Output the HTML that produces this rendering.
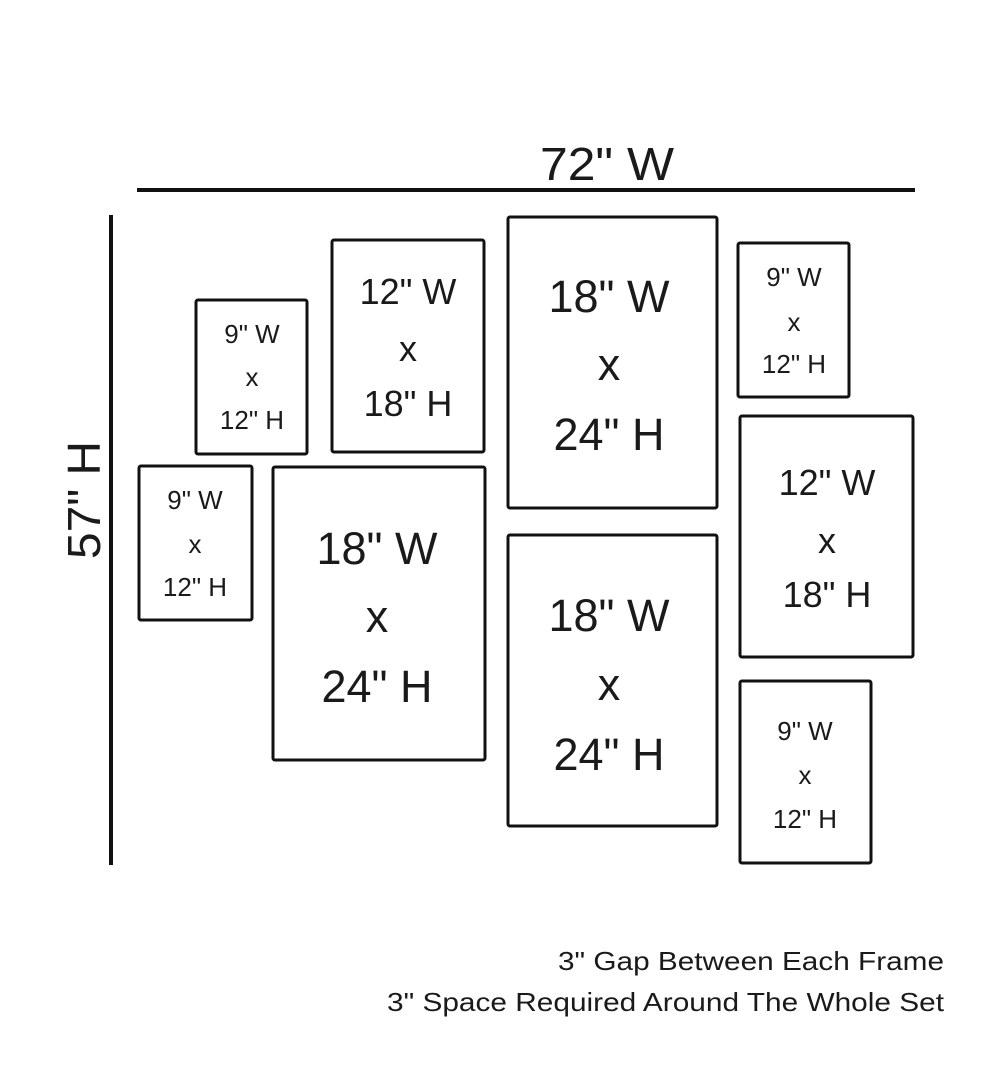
<!DOCTYPE html>
<html><head><style>
html,body{margin:0;padding:0;background:#fff;}
svg{display:block;}
text{font-family:"Liberation Sans",sans-serif;fill:#1a1a1a;text-anchor:middle;}
rect{fill:none;stroke:#111;stroke-width:3;}
</style></head><body>
<svg width="1000" height="1081" viewBox="0 0 1000 1081">
<line x1="137" y1="190" x2="915" y2="190" stroke="#111" stroke-width="4"/>
<line x1="111" y1="215" x2="111" y2="865" stroke="#111" stroke-width="4"/>
<text x="607" y="180" font-size="46" textLength="134" lengthAdjust="spacingAndGlyphs">72" W</text>
<text transform="translate(100,500) rotate(-90)" font-size="46" textLength="118" lengthAdjust="spacingAndGlyphs">57" H</text>

<!-- A -->
<rect x="196" y="300" width="111" height="154" rx="2"/>
<g font-size="26"><text x="252" y="343">9" W</text><text x="252" y="386">x</text><text x="252" y="429">12" H</text></g>
<!-- B -->
<rect x="332" y="240" width="152" height="212" rx="2"/>
<g font-size="36"><text x="408" y="304">12" W</text><text x="408" y="361">x</text><text x="408" y="416">18" H</text></g>
<!-- C -->
<rect x="508" y="217" width="209" height="291" rx="2"/>
<g font-size="45"><text x="609" y="312">18" W</text><text x="609" y="380">x</text><text x="609" y="450">24" H</text></g>
<!-- D -->
<rect x="738" y="243" width="111" height="154" rx="2"/>
<g font-size="26"><text x="794" y="286">9" W</text><text x="794" y="331">x</text><text x="794" y="373">12" H</text></g>
<!-- E -->
<rect x="139" y="466" width="113" height="154" rx="2"/>
<g font-size="26"><text x="195" y="509">9" W</text><text x="195" y="553">x</text><text x="195" y="596">12" H</text></g>
<!-- F -->
<rect x="273" y="467" width="212" height="293" rx="2"/>
<g font-size="45"><text x="377" y="564">18" W</text><text x="377" y="632">x</text><text x="377" y="702">24" H</text></g>
<!-- G -->
<rect x="508" y="535" width="209" height="291" rx="2"/>
<g font-size="45"><text x="609" y="631">18" W</text><text x="609" y="700">x</text><text x="609" y="770">24" H</text></g>
<!-- H -->
<rect x="740" y="416" width="173" height="241" rx="2"/>
<g font-size="36"><text x="827" y="495">12" W</text><text x="827" y="553">x</text><text x="827" y="607">18" H</text></g>
<!-- I -->
<rect x="740" y="681" width="131" height="182" rx="2"/>
<g font-size="26"><text x="805" y="740">9" W</text><text x="805" y="784">x</text><text x="805" y="828">12" H</text></g>

<text x="558" y="970" font-size="26" style="text-anchor:start" textLength="386" lengthAdjust="spacingAndGlyphs">3" Gap Between Each Frame</text>
<text x="387" y="1011" font-size="26" style="text-anchor:start" textLength="557" lengthAdjust="spacingAndGlyphs">3" Space Required Around The Whole Set</text>
</svg>
</body></html>
